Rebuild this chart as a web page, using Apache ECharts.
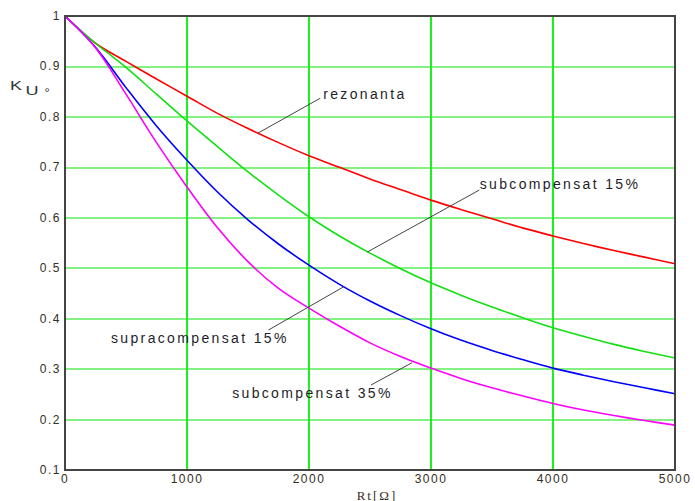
<!DOCTYPE html>
<html>
<head>
<meta charset="utf-8">
<script src="https://cdn.jsdelivr.net/npm/echarts@6/dist/echarts.min.js"></script>
<style>
html,body{margin:0;padding:0;background:#fff;}
#c{width:695px;height:501px;}
</style>
</head>
<body>
<div id="c"></div>
<script>
// ---- data ----
const rt = [0,250,500,750,1000,1250,1500,1750,2000,2250,2500,2750,3000,3250,3500,3750,4000,4250,4500,4750,5000];
const rezonanta   = [1,0.946,0.910,0.875,0.841,0.807,0.777,0.749,0.723,0.700,0.677,0.656,0.635,0.616,0.598,0.580,0.564,0.549,0.535,0.522,0.509];
const subcomp15   = [1,0.946,0.898,0.845,0.792,0.741,0.691,0.645,0.602,0.564,0.530,0.499,0.471,0.446,0.423,0.402,0.382,0.365,0.349,0.335,0.322];
const supracomp15 = [1,0.938,0.858,0.782,0.714,0.651,0.596,0.548,0.506,0.468,0.435,0.406,0.380,0.357,0.337,0.319,0.302,0.288,0.275,0.263,0.251];
const subcomp35   = [1,0.937,0.845,0.749,0.661,0.580,0.513,0.460,0.421,0.385,0.352,0.325,0.302,0.281,0.263,0.247,0.232,0.219,0.208,0.198,0.189];
const xTickLabels = ['0','1000','2000','3000','4000','5000'];
const yTickLabels = ['0.1','0.2','0.3','0.4','0.5','0.6','0.7','0.8','0.9','1'];
const seriesNames = ['rezonanta','subcompensat 15%','supracompensat 15%','subcompensat 35%'];

// annotation anchors in data units: leader start (on curve), leader end, text start
const annotations = [
  {text:'rezonanta',          from:[1583,0.768], to:[2092,0.837], at:[2116,0.8454]},
  {text:'subcompensat 15%',   from:[2477,0.532], to:[3396,0.655], at:[3399,0.6663]},
  {text:'supracompensat 15%', from:[2283,0.463], to:[1668,0.3775], at:[377,0.3616]},
  {text:'subcompensat 35%',   from:[2844,0.3126], to:[2508,0.2684], at:[1370,0.252]}
];

const colors = ['#ff0000','#12e012','#0000ff','#ff00ff'];
const values = [rezonanta, subcomp15, supracomp15, subcomp35];

const dom = document.getElementById('c');
const chart = echarts.init(dom, null, {renderer:'svg'});

const tickFont = {fontFamily:'Liberation Sans, Arial, sans-serif', fontSize:12, color:'#352d22'};

chart.setOption({
  animation:false,
  backgroundColor:'#ffffff',
  grid:{left:65, top:16, right:20, bottom:31, show:false},
  xAxis:{
    type:'value', min:0, max:5000, interval:1000,
    axisLine:{show:false}, axisTick:{show:false},
    axisLabel:Object.assign({margin:3, formatter:(v)=>xTickLabels[Math.round(v/1000)]}, tickFont),
    splitLine:{show:true, showMinLine:false, showMaxLine:false, lineStyle:{color:'#1ef01e', width:2}}
  },
  yAxis:{
    type:'value', min:0.1, max:1, interval:0.1,
    axisLine:{show:false}, axisTick:{show:false},
    axisLabel:Object.assign({margin:4, formatter:(v)=>yTickLabels[Math.round(v*10)-1]}, tickFont),
    splitLine:{show:true, showMinLine:false, showMaxLine:false, lineStyle:{color:'#5aee5a', width:1.5}}
  },
  series: values.map((vals,i)=>({
    name: seriesNames[i],
    type:'line',
    data: rt.map((x,j)=>[x, vals[j]]),
    smooth:0.35,
    symbol:'none',
    lineStyle:{color:colors[i], width:1.6},
    z:3
  }))
});

function buildGraphics(){
  const g = [];
  // plot frame, computed from the axes
  const tl = chart.convertToPixel({gridIndex:0}, [0,1]);
  const br = chart.convertToPixel({gridIndex:0}, [5000,0.1]);
  g.push({type:'rect', z:20, shape:{x:tl[0], y:tl[1], width:br[0]-tl[0], height:br[1]-tl[1]}, style:{fill:'none', stroke:'#444444', lineWidth:2}});
  annotations.forEach(a=>{
    const p1 = chart.convertToPixel({gridIndex:0}, a.from);
    const p2 = chart.convertToPixel({gridIndex:0}, a.to);
    const pt = chart.convertToPixel({gridIndex:0}, a.at);
    g.push({type:'line', z:10, shape:{x1:p1[0], y1:p1[1], x2:p2[0], y2:p2[1]}, style:{stroke:'#444444', lineWidth:1}});
    g.push({type:'text', z:10, x:pt[0], y:pt[1], style:{text:a.text, fontFamily:'Liberation Sans, Arial, sans-serif', fontSize:14, fill:'#1e1e2a', textAlign:'left', textVerticalAlign:'middle'}});
  });
  // axis titles
  g.push({type:'text', x:377, y:495, style:{text:'Rt[Ω]', fontFamily:'Liberation Serif, Times New Roman, serif', fontSize:13, fill:'#352d22', textAlign:'center', textVerticalAlign:'middle'}});
  g.push({type:'text', x:16, y:86, scaleX:1.5, style:{text:'K', fontFamily:'Liberation Sans, Arial, sans-serif', fontSize:12, fill:'#333333', textAlign:'center', textVerticalAlign:'middle'}});
  g.push({type:'text', x:32, y:91, scaleX:1.45, style:{text:'U', fontFamily:'Liberation Sans, Arial, sans-serif', fontSize:12.5, fill:'#333333', textAlign:'center', textVerticalAlign:'middle'}});
  g.push({type:'text', x:47, y:92, style:{text:'°', fontFamily:'Liberation Sans, Arial, sans-serif', fontSize:13, fill:'#333333', textAlign:'center', textVerticalAlign:'middle'}});
  chart.setOption({graphic:g});
}
buildGraphics();

function spaceText(){
  dom.querySelectorAll('text').forEach(t=>{
    const s = (t.textContent||'').trim();
    let ls = '0px';
    if (/^[0-9.]+$/.test(s)) ls = '1.5px';
    else if (s === 'Rt[Ω]') ls = '2px';
    else if (s.length > 3) ls = '2.35px';
    t.style.letterSpacing = ls;
  });
}
chart.on('finished', spaceText);
spaceText();
setTimeout(spaceText, 50);
</script>
</body>
</html>
